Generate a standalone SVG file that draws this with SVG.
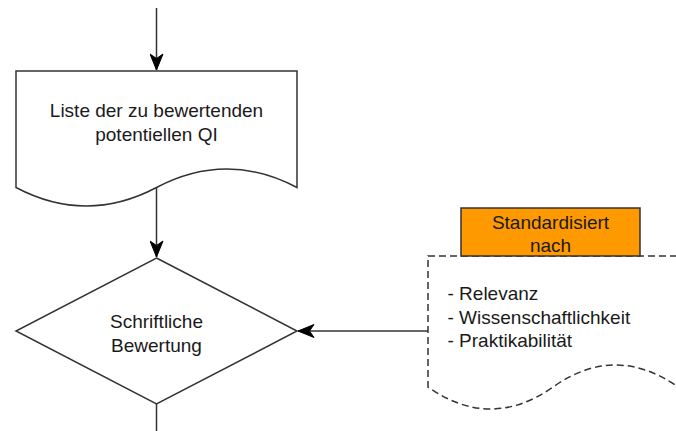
<svg xmlns="http://www.w3.org/2000/svg" width="676" height="431" viewBox="0 0 676 431">
<style>
.ln{fill:none;stroke:#333;stroke-width:1.5}
.sh{fill:#fff;stroke:#333;stroke-width:1.5}
.t{font-family:"Liberation Sans",Arial,sans-serif;font-size:19px;fill:#1a1a1a}
.c{text-anchor:middle}
</style>
<defs>
<marker id="ah" viewBox="-17 -7 18 14" refX="0" refY="0" markerWidth="18" markerHeight="14" markerUnits="userSpaceOnUse" orient="auto">
<path d="M0,0 L-16,-6.5 L-11.5,0 L-16,6.5 Z" fill="#000" stroke="#000" stroke-width="1"/>
</marker>
</defs>
<rect width="676" height="431" fill="#fff"/>
<g id="connectors">
<path class="ln" d="M156.5,8 V70" marker-end="url(#ah)"/>
<path class="ln" d="M156.5,188 V257" marker-end="url(#ah)"/>
<path class="ln" d="M156.5,404 V431"/>
<path class="ln" d="M428,331 H298" marker-end="url(#ah)"/>
</g>
<g id="doc-liste">
<path class="sh" d="M16,71 H297 V187.5 Q226.75,150.5 156.5,187.5 Q86.25,224.5 16,187.5 Z"/>
<text class="t c" x="156.5" y="117">Liste der zu bewertenden</text>
<text class="t c" x="156.5" y="141">potentiellen QI</text>
</g>
<g id="decision">
<path class="sh" d="M156.5,258 L297,331 L156.5,404 L16,331 Z"/>
<text class="t c" x="156.5" y="328">Schriftliche</text>
<text class="t c" x="156.5" y="352">Bewertung</text>
</g>
<g id="note">
<path d="M428,256 H678 V387 Q615.5,343 553,387 Q490.5,431 428,387 Z" fill="#fff" stroke="#333" stroke-width="1.5" stroke-dasharray="7,4"/>
<text class="t" x="447.5" y="299.5">- Relevanz</text>
<text class="t" x="447.5" y="324">- Wissenschaftlichkeit</text>
<text class="t" x="447.5" y="347">- Praktikabilität</text>
</g>
<g id="label-standardisiert">
<rect x="461" y="208" width="179" height="48" fill="#ff9900" stroke="#333" stroke-width="1.5"/>
<text class="t c" x="550.5" y="229">Standardisiert</text>
<text class="t c" x="550.5" y="252">nach</text>
</g>
</svg>
